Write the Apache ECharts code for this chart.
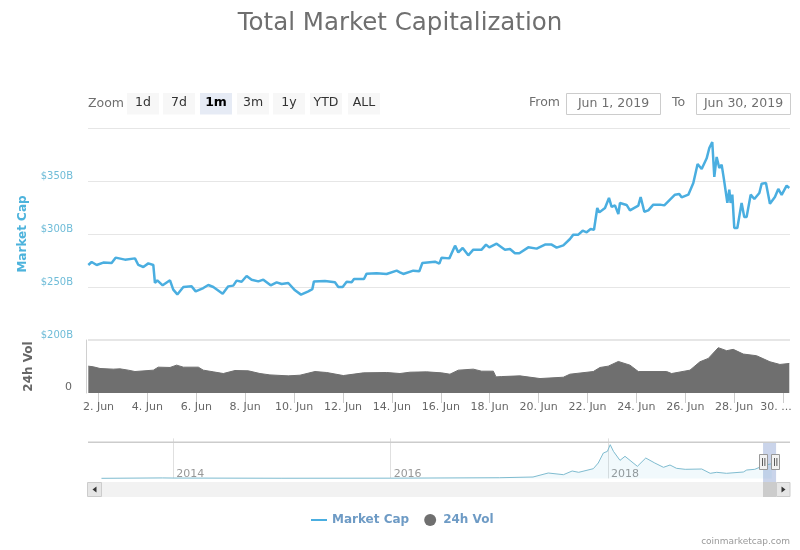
<!DOCTYPE html>
<html lang="en">
<head>
    <meta charset="UTF-8" />
    <title>Total Market Capitalization</title>
    <script src="https://cdn.jsdelivr.net/npm/echarts@6/dist/echarts.min.js"></script>
    <style>
        html, body { margin: 0; padding: 0; background: #fff; }
        #chart { width: 800px; height: 550px; }
    </style>
</head>
<body>
    <div id="chart"></div>

    <script>
        // hours since 31 May 2019 00:00 UTC, so day d of June starts at d * 24
        var marketHours = [38.0, 41.3, 46.2, 52.7, 60.9, 64.8, 74.0, 83.8, 87.1, 92.0, 96.9, 101.8, 103.4, 105.7, 111.0, 118.2, 121.4, 125.4, 131.3, 139.4, 143.4, 150.9, 155.8, 160.7, 169.9, 175.4, 180.3, 183.6, 188.5, 193.4, 198.3, 204.9, 209.8, 217.0, 222.9, 227.8, 234.3, 240.9, 246.8, 254.0, 257.9, 259.5, 270.3, 280.1, 283.4, 287.7, 291.6, 296.5, 298.8, 308.6, 311.2, 321.0, 330.8, 340.7, 343.9, 347.2, 357.0, 362.9, 365.9, 378.3, 382.6, 384.8, 392.4, 398.0, 401.2, 405.5, 411.0, 415.9, 424.1, 428.4, 431.6, 438.8, 447.0, 451.9, 456.8, 461.1, 469.9, 478.1, 486.3, 492.8, 497.7, 504.3, 510.8, 514.1, 519.0, 523.3, 527.2, 531.1, 534.4, 537.6, 539.6, 545.2, 549.1, 551.7, 555.0, 558.3, 559.9, 566.4, 569.7, 577.9, 580.2, 583.8, 587.7, 592.6, 599.2, 603.4, 609.0, 613.9, 618.1, 620.4, 627.0, 631.9, 636.1, 640.1, 645.0, 647.6, 650.5, 652.5, 654.8, 657.4, 659.7, 662.0, 665.3, 667.2, 668.5, 670.2, 672.1, 675.1, 679.3, 681.9, 684.2, 688.2, 691.8, 696.7, 699.0, 703.2, 707.1, 712.0, 715.3, 718.6, 723.5, 726.1];
        var marketCap = [270.8, 273.6, 270.8, 273.0, 272.6, 277.7, 275.8, 277.0, 270.8, 268.9, 272.3, 270.8, 253.8, 256.3, 251.6, 256.3, 247.5, 243.0, 250.0, 250.6, 245.9, 249.0, 251.9, 250.0, 243.7, 250.6, 251.3, 256.0, 255.0, 260.4, 256.9, 255.3, 256.9, 251.6, 254.4, 252.8, 253.8, 246.9, 242.8, 245.9, 248.0, 255.3, 255.7, 254.4, 250.0, 250.0, 255.0, 254.4, 257.5, 257.5, 262.6, 262.9, 262.3, 265.4, 263.8, 262.3, 265.4, 264.8, 272.6, 273.9, 272.0, 277.7, 277.0, 289.0, 282.7, 286.8, 279.9, 285.2, 285.2, 290.0, 287.4, 290.9, 285.2, 285.8, 281.8, 281.8, 287.4, 286.2, 290.0, 290.0, 287.1, 289.3, 295.3, 299.4, 299.4, 303.1, 301.6, 304.7, 304.0, 324.5, 320.4, 324.5, 334.0, 325.5, 327.0, 318.9, 329.3, 327.4, 322.3, 326.7, 334.9, 321.0, 322.3, 327.7, 327.7, 327.0, 332.4, 337.1, 337.7, 334.6, 337.1, 348.1, 366.0, 361.3, 371.4, 381.1, 386.8, 353.8, 372.7, 362.3, 365.4, 351.3, 329.3, 341.8, 329.3, 337.1, 305.7, 305.7, 329.3, 316.0, 316.0, 337.1, 333.0, 338.7, 347.5, 348.1, 328.6, 334.9, 342.5, 337.0, 345.6, 343.4];

        var volumeHours = [38.0, 42.9, 49.5, 62.5, 69.1, 77.3, 83.8, 101.8, 106.7, 118.2, 124.7, 131.3, 146.0, 150.9, 160.7, 170.5, 182.0, 195.1, 206.5, 216.3, 234.3, 245.8, 260.5, 272.0, 288.3, 308.0, 330.9, 343.9, 353.8, 370.1, 384.8, 393.0, 401.2, 415.9, 424.1, 435.6, 438.2, 443.7, 461.7, 481.4, 504.3, 510.8, 533.7, 540.3, 548.4, 558.3, 569.7, 577.9, 605.7, 610.6, 628.6, 638.4, 646.6, 656.4, 664.6, 671.1, 680.9, 694.0, 707.1, 716.9, 726.1];
        var volumeValues = [60.8, 59.3, 55.5, 54.0, 54.7, 51.7, 48.6, 51.7, 58.5, 57.8, 63.1, 58.5, 58.5, 51.7, 47.9, 44.1, 50.9, 50.2, 44.1, 41.0, 38.8, 40.3, 48.6, 46.4, 39.5, 45.6, 46.4, 44.1, 47.1, 47.9, 45.6, 42.6, 51.7, 54.0, 49.4, 49.4, 36.5, 37.2, 38.8, 32.7, 35.7, 42.6, 48.6, 57.8, 60.8, 71.4, 63.1, 48.6, 48.6, 44.1, 51.7, 70.7, 78.3, 102.6, 95.8, 98.8, 88.2, 84.4, 70.7, 64.6, 66.9];

        // navigator: whole history, x in decimal years
        var navYears = [2013.34, 2013.9, 2014.0, 2015.0, 2016.0, 2017.0, 2017.31, 2017.45, 2017.59, 2017.67, 2017.73, 2017.865, 2017.91, 2017.957, 2017.994, 2018.02, 2018.05, 2018.11, 2018.156, 2018.27, 2018.347, 2018.43, 2018.51, 2018.57, 2018.63, 2018.71, 2018.862, 2018.94, 2019.0, 2019.09, 2019.245, 2019.276, 2019.35, 2019.43, 2019.506];
        var navValues = [2, 12, 9, 4, 6, 17, 35, 135, 93, 185, 152, 243, 385, 635, 676, 843, 676, 451, 552, 302, 510, 385, 277, 335, 252, 227, 235, 127, 152, 127, 160, 210, 227, 318, 368];
        var navYearTicks = [2014, 2016, 2018];
        var navWindow = [2019.426, 2019.546];

        var dayTicks = [2, 4, 6, 8, 10, 12, 14, 16, 18, 20, 22, 24, 26, 28, 30];
        var capTicks = [200, 250, 300, 350];
        var zoomButtons = ["1d", "7d", "1m", "3m", "1y", "YTD", "ALL"];
        var activeButton = "1m";

        var font = "DejaVu Sans";

        function zip(xs, ys) {
            return xs.map(function (x, i) {
                return [x, ys[i]];
            });
        }

        var xMin = 37.7;
        var xMax = 726.8;
        var tickHours = dayTicks.map(function (d) {
            return d * 24;
        });

        // range selector, inputs, navigator handles and scrollbar
        var chrome = [];
        function rect(x, y, w, h, fill, stroke) {
            chrome.push({
                type: "rect", silent: true, z: 10,
                shape: { x: x, y: y, width: w, height: h },
                style: { fill: fill, stroke: stroke || null, lineWidth: 1 }
            });
        }
        function label(x, y, text, color, size, align, weight) {
            chrome.push({
                type: "text", silent: true, z: 11, x: x, y: y,
                style: {
                    text: text, fill: color, font: (weight || "normal") + " " + size + "px " + font,
                    align: align || "left", verticalAlign: "middle"
                }
            });
        }

        label(88, 103.5, "Zoom", "#6f6f6f", 12.5);
        var buttonX = [127, 163, 200, 237, 273, 310, 348];
        zoomButtons.forEach(function (b, i) {
            var active = b === activeButton;
            rect(buttonX[i], 93, 32, 21.5, active ? "#e6ebf5" : "#f7f7f7");
            label(buttonX[i] + 16, 103, b, active ? "#000000" : "#333333", 12.5, "center", active ? "bold" : "normal");
        });
        label(529, 103, "From", "#6f6f6f", 12.5);
        rect(566.5, 93.5, 94, 21, "#ffffff", "#cccccc");
        label(613.5, 103.5, "Jun 1, 2019", "#6f6f6f", 12.5, "center");
        label(672, 103, "To", "#6f6f6f", 12.5);
        rect(696.5, 93.5, 94, 21, "#ffffff", "#cccccc");
        label(743.5, 103.5, "Jun 30, 2019", "#6f6f6f", 12.5, "center");

        rect(88, 339, 702, 2, "#e6e6e6");
        rect(88, 441.5, 702, 1.5, "#cccccc");

        rect(88, 482, 702, 15, "#f2f2f2");
        rect(763, 482, 13, 15, "#cccccc");
        rect(87.5, 482.5, 14, 14, "#e6e6e6", "#cccccc");
        rect(776.5, 482.5, 13.5, 14, "#e6e6e6", "#cccccc");
        chrome.push({ type: "polygon", silent: true, z: 11, shape: { points: [[96.5, 486.5], [96.5, 492.5], [92.5, 489.5]] }, style: { fill: "#333333" } });
        chrome.push({ type: "polygon", silent: true, z: 11, shape: { points: [[781.5, 486.5], [781.5, 492.5], [785.5, 489.5]] }, style: { fill: "#333333" } });

        [759.5, 771.5].forEach(function (x) {
            rect(x, 454.5, 8, 15, "#f2f2f2", "#999999");
            rect(x + 2.5, 458, 0.8, 8, "#333333");
            rect(x + 5, 458, 0.8, 8, "#333333");
        });

        var option = {
            animation: false,
            backgroundColor: "#ffffff",
            textStyle: { fontFamily: font },
            title: {
                text: "Total Market Capitalization",
                left: "center",
                top: 6,
                textStyle: { fontFamily: font, fontSize: 24.5, fontWeight: "normal", color: "#6f6f6f" }
            },
            legend: {
                left: 306,
                top: 509,
                itemGap: 15,
                itemWidth: 16,
                itemHeight: 12,
                selectedMode: false,
                textStyle: { fontFamily: font, fontSize: 12, fontWeight: "bold", color: "#6e9bc5" },
                data: [
                    { name: "Market Cap", icon: "path://M0 0H16V2H0Z" },
                    { name: "24h Vol", icon: "circle" }
                ]
            },
            grid: [
                { left: 88, right: 10, top: 128, height: 212 },
                { left: 88, right: 10, top: 340, height: 53 },
                { left: 88, right: 10, top: 442, height: 40 }
            ],
            xAxis: [
                {
                    type: "value", gridIndex: 0, min: xMin, max: xMax,
                    axisLine: { show: false }, axisTick: { show: false }, axisLabel: { show: false }, splitLine: { show: false }
                },
                {
                    type: "value", gridIndex: 1, min: xMin, max: xMax,
                    axisLine: { show: false },
                    axisTick: { show: true, length: 10, customValues: tickHours, lineStyle: { color: "#cccccc" } },
                    axisLabel: {
                        show: true, customValues: tickHours, margin: 9, color: "#666666", fontSize: 11, fontFamily: font,
                        hideOverlap: false,
                        formatter: function (value) {
                            var d = value / 24;
                            return d === 30 ? "{last|30. ...}" : d + ". Jun";
                        },
                        rich: { last: { padding: [0, 14, 0, 0], color: "#666666", fontSize: 11, fontFamily: font } }
                    },
                    splitLine: { show: false }
                },
                {
                    type: "value", gridIndex: 2, min: 2013.216, max: 2019.674,
                    axisLine: { show: false },
                    axisTick: { show: true, inside: true, length: 40, customValues: navYearTicks, lineStyle: { color: "#e0e0e0" } },
                    axisLabel: {
                        show: true, inside: true, customValues: navYearTicks, margin: 2, align: "left", padding: [0, 0, 0, 3],
                        color: "#999999", fontSize: 11, fontFamily: font,
                        formatter: function (value) { return String(value); }
                    },
                    splitLine: { show: false }
                }
            ],
            yAxis: [
                {
                    type: "value", gridIndex: 0, min: 200, max: 400, interval: 50,
                    name: "Market Cap", nameLocation: "middle", nameGap: 59,
                    nameTextStyle: { color: "#4db3dc", fontSize: 12, fontWeight: "bold", fontFamily: font },
                    axisLine: { show: false }, axisTick: { show: false },
                    axisLabel: {
                        customValues: capTicks, margin: 15, color: "#6fbcd8", fontSize: 10, fontFamily: font, verticalAlign: "bottom",
                        formatter: function (value) { return "$" + value + "B"; }
                    },
                    splitLine: { lineStyle: { color: "#e6e6e6", width: 1 } }
                },
                {
                    type: "value", gridIndex: 1, min: 0, max: 120, offset: 2,
                    name: "24h Vol", nameLocation: "middle", nameGap: 51,
                    nameTextStyle: { color: "#666666", fontSize: 12, fontWeight: "bold", fontFamily: font },
                    axisLine: { show: true, lineStyle: { color: "#d0d0d0" } }, axisTick: { show: false },
                    axisLabel: { customValues: [0], margin: 14, color: "#666666", fontSize: 11, fontFamily: font, verticalAlign: "bottom" },
                    splitLine: { show: false }
                },
                {
                    type: "value", gridIndex: 2, min: -90, max: 910,
                    axisLine: { show: false }, axisTick: { show: false }, axisLabel: { show: false }, splitLine: { show: false }
                }
            ],
            series: [
                {
                    name: "Market Cap", type: "line", xAxisIndex: 0, yAxisIndex: 0,
                    data: zip(marketHours, marketCap),
                    showSymbol: false, lineStyle: { color: "#4aaee0", width: 2.5 }, itemStyle: { color: "#4aaee0" }, z: 5
                },
                {
                    name: "24h Vol", type: "line", xAxisIndex: 1, yAxisIndex: 1,
                    data: zip(volumeHours, volumeValues),
                    showSymbol: false, lineStyle: { color: "#6f6f6f", width: 1 }, itemStyle: { color: "#6f6f6f" },
                    areaStyle: { color: "#6f6f6f", opacity: 1 }
                },
                {
                    name: "Navigator", type: "line", xAxisIndex: 2, yAxisIndex: 2,
                    data: zip(navYears, navValues),
                    showSymbol: false, lineStyle: { color: "#7fbcd0", width: 1 }, itemStyle: { color: "#7fbcd0" },
                    areaStyle: { color: "#4db3dc", opacity: 0.08 },
                    markArea: {
                        silent: true,
                        itemStyle: { color: "rgba(102,133,194,0.35)" },
                        data: [[{ xAxis: navWindow[0], yAxis: -90 }, { xAxis: navWindow[1], yAxis: 910 }]]
                    }
                }
            ],
            graphic: {
                elements: chrome.concat([
                    {
                        type: "text", silent: true, right: 10, top: 537,
                        style: { text: "coinmarketcap.com", fill: "#999999", font: "9px " + font }
                    }
                ])
            }
        };

        var chart = echarts.init(document.getElementById("chart"), null, { renderer: "canvas" });
        chart.setOption(option);
    </script>
</body>
</html>
